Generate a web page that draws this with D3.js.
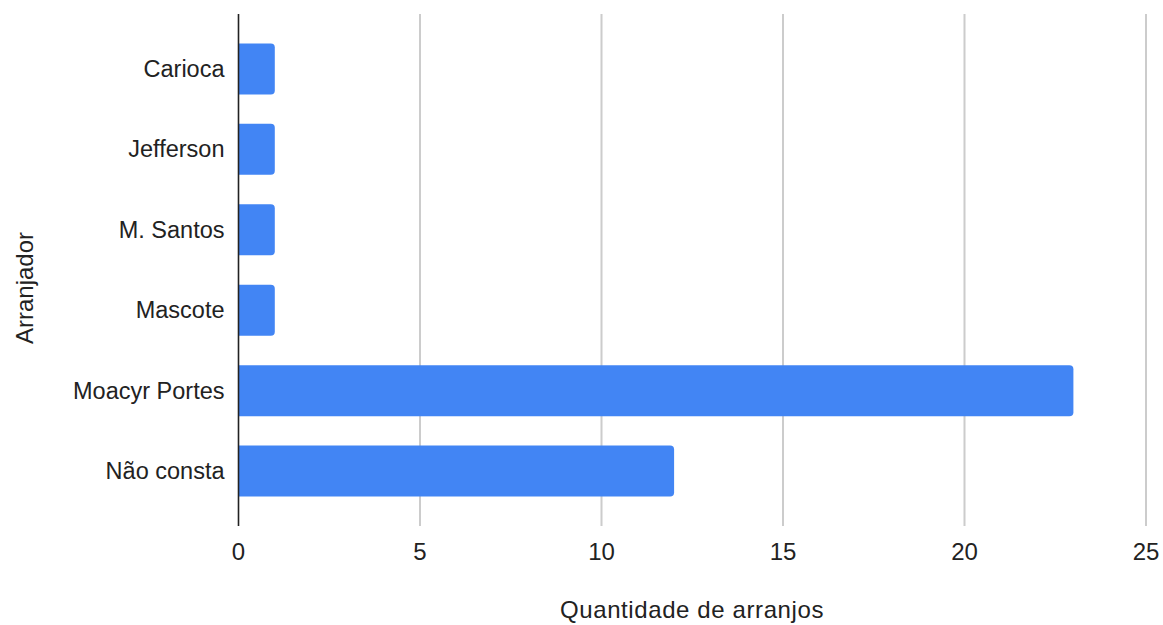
<!DOCTYPE html>
<html>
<head>
<meta charset="utf-8">
<script src="https://cdn.jsdelivr.net/npm/d3@7"></script>
<style>
  body { margin: 0; background: #fff; }
  svg { font-family: "Liberation Sans", Arial, sans-serif; }
</style>
</head>
<body>
<svg id="drawing_region"></svg>
<script>
const categories = ["Carioca", "Jefferson", "M. Santos", "Mascote", "Moacyr Portes", "Não consta"];
const values = [1, 1, 1, 1, 23, 12];
const ticks = [0, 5, 10, 15, 20, 25];

var width = 1163;
var height = 625;
var margin = { top: 14, right: 17, bottom: 99, left: 238.5 };

var svg = d3.select('#drawing_region')
    .attr('width', width)
    .attr('height', height);

const x = d3.scaleLinear()
    .domain([0, 25])
    .range([margin.left, width - margin.right]);

const y = d3.scaleBand()
    .domain(categories)
    .range([margin.top, height - margin.bottom])
    .padding(0.366);

const bottom = height - margin.bottom;

// gridlines
svg.append('g')
    .selectAll('line')
    .data(ticks.filter(t => t > 0))
    .enter()
    .append('line')
    .attr('x1', d => x(d)).attr('x2', d => x(d))
    .attr('y1', margin.top).attr('y2', bottom)
    .attr('stroke', '#cccccc')
    .attr('stroke-width', 2);

// bars, rounded on the right only
const r = 4;
svg.append('g')
    .selectAll('path')
    .data(categories.map((c, i) => ({ name: c, value: values[i] })))
    .enter()
    .append('path')
    .attr('fill', '#4285f4')
    .attr('d', d => {
        const x0 = x(0), x1 = x(d.value), y0 = y(d.name), h = y.bandwidth();
        return `M${x0},${y0}H${x1 - r}Q${x1},${y0} ${x1},${y0 + r}V${y0 + h - r}Q${x1},${y0 + h} ${x1 - r},${y0 + h}H${x0}Z`;
    });

// y axis line
svg.append('line')
    .attr('x1', x(0)).attr('x2', x(0))
    .attr('y1', margin.top).attr('y2', bottom)
    .attr('stroke', '#222')
    .attr('stroke-width', 1.6);

// category labels
svg.append('g')
    .selectAll('text')
    .data(categories)
    .enter()
    .append('text')
    .attr('x', x(0) - 14)
    .attr('y', d => y(d) + y.bandwidth() / 2)
    .attr('text-anchor', 'end')
    .attr('dominant-baseline', 'central')
    .style('font-size', '23.5px')
    .style('fill', '#222')
    .text(d => d);

// x tick labels
svg.append('g')
    .selectAll('text')
    .data(ticks)
    .enter()
    .append('text')
    .attr('x', d => x(d))
    .attr('y', 551)
    .attr('text-anchor', 'middle')
    .attr('dominant-baseline', 'central')
    .style('font-size', '24px')
    .style('fill', '#222')
    .text(d => d);

// axis titles
svg.append('text')
    .attr('x', 692)
    .attr('y', 609)
    .attr('text-anchor', 'middle')
    .attr('dominant-baseline', 'central')
    .style('font-size', '24px')
    .style('letter-spacing', '0.6px')
    .style('fill', '#222')
    .text('Quantidade de arranjos');

svg.append('text')
    .attr('transform', `translate(24, 288) rotate(-90)`)
    .attr('text-anchor', 'middle')
    .attr('dominant-baseline', 'central')
    .style('font-size', '24px')
    .style('fill', '#222')
    .text('Arranjador');
</script>
</body>
</html>
